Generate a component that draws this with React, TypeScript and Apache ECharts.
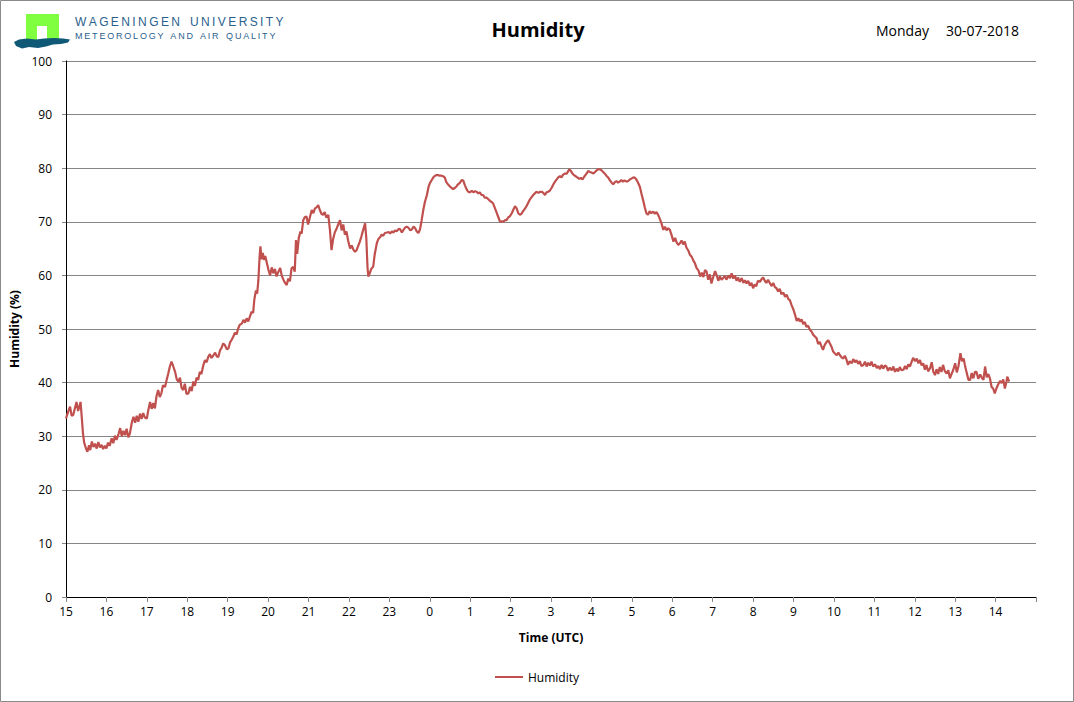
import React, { useEffect, useRef } from "react";
import * as echarts from "echarts";

// hours since 15:00 UTC (29-07) and relative humidity (%)
const hours = [
  0.00, 0.05, 0.10, 0.14, 0.18, 0.22, 0.26, 0.30, 0.33, 0.36, 0.39, 0.42, 0.45, 0.49, 0.53, 0.57, 0.60, 0.64, 0.68, 0.72,
  0.76, 0.80, 0.84, 0.88, 0.92, 0.96, 1.00, 1.04, 1.08, 1.13, 1.17, 1.21, 1.25, 1.30, 1.34, 1.38, 1.42, 1.46, 1.50, 1.54,
  1.58, 1.63, 1.67, 1.71, 1.75, 1.79, 1.83, 1.87, 1.91, 1.95, 2.00, 2.04, 2.08, 2.12, 2.16, 2.20, 2.24, 2.28, 2.32, 2.36,
  2.40, 2.45, 2.49, 2.53, 2.57, 2.61, 2.65, 2.70, 2.74, 2.78, 2.82, 2.86, 2.90, 2.94, 2.98, 3.03, 3.07, 3.11, 3.15, 3.19,
  3.23, 3.27, 3.31, 3.35, 3.40, 3.44, 3.48, 3.52, 3.56, 3.60, 3.65, 3.69, 3.73, 3.77, 3.81, 3.85, 3.89, 3.93, 3.98, 4.02,
  4.06, 4.10, 4.14, 4.18, 4.22, 4.26, 4.30, 4.35, 4.39, 4.43, 4.47, 4.51, 4.55, 4.59, 4.63, 4.66, 4.70, 4.73, 4.76, 4.79,
  4.81, 4.84, 4.87, 4.90, 4.93, 4.97, 5.01, 5.05, 5.09, 5.13, 5.17, 5.21, 5.25, 5.30, 5.34, 5.38, 5.42, 5.46, 5.50, 5.54,
  5.58, 5.62, 5.66, 5.69, 5.72, 5.76, 5.80, 5.83, 5.87, 5.91, 5.95, 5.99, 6.04, 6.08, 6.12, 6.16, 6.20, 6.24, 6.28, 6.32,
  6.36, 6.40, 6.44, 6.49, 6.53, 6.57, 6.61, 6.65, 6.70, 6.74, 6.78, 6.82, 6.86, 6.90, 6.94, 6.98, 7.03, 7.07, 7.11, 7.15,
  7.19, 7.23, 7.27, 7.31, 7.35, 7.40, 7.43, 7.46, 7.48, 7.52, 7.56, 7.60, 7.64, 7.69, 7.73, 7.77, 7.81, 7.85, 7.89, 7.94,
  7.98, 8.02, 8.06, 8.10, 8.14, 8.18, 8.22, 8.26, 8.31, 8.35, 8.39, 8.43, 8.47, 8.52, 8.56, 8.60, 8.64, 8.68, 8.72, 8.76,
  8.80, 8.84, 8.88, 8.93, 8.97, 9.01, 9.05, 9.09, 9.13, 9.17, 9.21, 9.25, 9.29, 9.33, 9.37, 9.41, 9.46, 9.50, 9.54, 9.58,
  9.62, 9.66, 9.70, 9.75, 9.79, 9.83, 9.87, 9.91, 9.95, 10.00, 10.04, 10.08, 10.12, 10.16, 10.20, 10.24, 10.28, 10.32, 10.36, 10.41,
  10.45, 10.49, 10.53, 10.57, 10.61, 10.66, 10.70, 10.74, 10.78, 10.82, 10.86, 10.90, 10.94, 10.98, 11.03, 11.07, 11.11, 11.15, 11.19, 11.23,
  11.27, 11.31, 11.36, 11.40, 11.44, 11.48, 11.52, 11.56, 11.60, 11.64, 11.69, 11.73, 11.77, 11.81, 11.85, 11.89, 11.93, 11.97, 12.02, 12.06,
  12.10, 12.14, 12.18, 12.22, 12.26, 12.30, 12.35, 12.39, 12.43, 12.45, 12.49, 12.53, 12.57, 12.61, 12.65, 12.70, 12.74, 12.78, 12.82, 12.86,
  12.90, 12.92, 12.96, 13.00, 13.05, 13.09, 13.13, 13.17, 13.21, 13.25, 13.29, 13.33, 13.37, 13.42, 13.46, 13.50, 13.54, 13.58, 13.62, 13.66,
  13.70, 13.74, 13.78, 13.82, 13.87, 13.91, 13.95, 14.00, 14.04, 14.08, 14.12, 14.16, 14.20, 14.24, 14.28, 14.32, 14.36, 14.40, 14.44, 14.48,
  14.53, 14.57, 14.61, 14.65, 14.69, 14.73, 14.78, 14.82, 14.86, 14.90, 14.94, 14.98, 15.03, 15.07, 15.11, 15.15, 15.19, 15.23, 15.27, 15.31,
  15.35, 15.40, 15.44, 15.48, 15.52, 15.56, 15.60, 15.65, 15.69, 15.73, 15.77, 15.81, 15.85, 15.89, 15.93, 15.97, 16.01, 16.06, 16.10, 16.14,
  16.18, 16.22, 16.26, 16.30, 16.34, 16.39, 16.43, 16.47, 16.51, 16.55, 16.59, 16.63, 16.67, 16.72, 16.76, 16.80, 16.84, 16.88, 16.92, 16.96,
  17.00, 17.04, 17.08, 17.12, 17.17, 17.21, 17.25, 17.29, 17.33, 17.37, 17.42, 17.46, 17.50, 17.54, 17.58, 17.62, 17.66, 17.70, 17.75, 17.79,
  17.83, 17.87, 17.91, 17.95, 18.00, 18.04, 18.08, 18.12, 18.16, 18.20, 18.24, 18.28, 18.32, 18.36, 18.41, 18.45, 18.49, 18.53, 18.57, 18.61,
  18.65, 18.69, 18.73, 18.77, 18.82, 18.86, 18.90, 18.94, 18.98, 19.03, 19.07, 19.11, 19.15, 19.19, 19.23, 19.27, 19.31, 19.35, 19.39, 19.44,
  19.48, 19.52, 19.56, 19.60, 19.64, 19.68, 19.73, 19.77, 19.81, 19.85, 19.89, 19.93, 19.97, 20.02, 20.06, 20.10, 20.14, 20.18, 20.22, 20.26,
  20.30, 20.34, 20.38, 20.43, 20.47, 20.51, 20.55, 20.59, 20.63, 20.67, 20.72, 20.76, 20.80, 20.84, 20.88, 20.92, 20.96, 21.01, 21.05, 21.09,
  21.13, 21.17, 21.21, 21.25, 21.29, 21.33, 21.38, 21.42, 21.46, 21.50, 21.54, 21.58, 21.62, 21.66, 21.70, 21.74, 21.79, 21.83, 21.87, 21.91,
  21.95, 22.00, 22.04, 22.08, 22.13, 22.17, 22.21, 22.24, 22.28, 22.33, 22.37, 22.41, 22.45, 22.49, 22.53, 22.57, 22.62, 22.66, 22.70, 22.74,
  22.78, 22.82, 22.86, 22.90, 22.94, 22.98, 23.02, 23.06, 23.11, 23.15, 23.19, 23.23, 23.27, 23.29, 23.32, 23.34,
];

const humidity = [
  33.3, 34.5, 35.5, 33.8, 34.0, 35.2, 36.4, 34.7, 35.5, 36.4, 33.5, 30.5, 28.8, 27.8, 27.1, 28.3, 27.4, 29.0, 28.0, 28.6,
  27.7, 28.9, 27.9, 28.4, 27.6, 28.2, 27.7, 28.8, 28.2, 29.6, 28.7, 30.1, 29.3, 30.4, 31.5, 30.0, 31.0, 30.2, 31.4, 29.8,
  30.5, 32.6, 33.6, 32.5, 33.8, 32.7, 34.2, 33.2, 34.3, 33.5, 33.3, 35.0, 36.4, 35.1, 36.2, 35.2, 37.5, 38.6, 37.3, 38.0,
  39.5, 39.2, 40.5, 41.7, 43.0, 43.9, 43.1, 42.0, 40.6, 40.2, 40.9, 39.0, 38.6, 39.8, 37.9, 38.0, 39.2, 38.4, 40.2, 39.4,
  40.9, 40.5, 42.0, 41.6, 43.3, 44.2, 43.8, 44.8, 45.3, 44.6, 45.1, 45.6, 44.9, 44.8, 46.0, 46.5, 47.3, 47.0, 46.2, 46.4,
  47.5, 48.0, 48.6, 49.3, 49.0, 50.1, 50.8, 51.0, 51.7, 51.2, 52.0, 51.4, 52.3, 53.2, 53.0, 55.5, 57.2, 56.6, 59.1, 63.5,
  65.4, 63.0, 64.2, 62.9, 63.6, 62.3, 61.0, 60.0, 61.5, 60.4, 61.2, 59.8, 60.6, 61.4, 59.9, 59.2, 58.6, 58.2, 59.4, 58.9,
  61.3, 61.6, 60.7, 66.6, 64.0, 67.0, 68.2, 67.8, 70.3, 70.9, 71.0, 69.5, 71.0, 72.2, 71.6, 72.5, 72.7, 73.1, 72.2, 71.5,
  71.3, 71.8, 70.8, 71.3, 68.5, 64.7, 66.8, 68.0, 68.8, 69.6, 70.3, 68.4, 69.5, 67.6, 68.2, 66.5, 65.0, 65.6, 64.8, 64.4,
  64.7, 65.5, 66.3, 67.3, 68.4, 69.7, 67.0, 61.5, 59.8, 60.5, 61.3, 61.6, 64.0, 66.0, 66.8, 67.1, 67.6, 67.4, 67.9, 68.0,
  68.1, 67.8, 68.2, 68.0, 68.4, 68.2, 68.6, 68.7, 68.0, 68.5, 68.9, 69.1, 68.9, 68.4, 68.6, 69.1, 68.8, 68.2, 67.9, 68.6,
  70.3, 72.2, 73.7, 75.0, 76.5, 77.3, 77.8, 78.3, 78.6, 78.7, 78.7, 78.6, 78.6, 78.5, 78.3, 77.4, 76.9, 76.6, 76.3, 76.1,
  76.3, 76.6, 77.0, 77.3, 77.8, 77.7, 76.8, 76.1, 75.6, 75.5, 75.8, 75.5, 75.7, 75.6, 75.3, 75.5, 75.0, 75.0, 74.5, 74.5,
  74.2, 73.9, 73.7, 73.4, 72.6, 71.6, 70.8, 70.0, 70.1, 70.0, 70.3, 70.3, 70.8, 71.0, 71.6, 72.3, 72.9, 72.5, 71.6, 71.3,
  71.5, 72.0, 72.5, 73.0, 73.6, 74.2, 74.6, 75.0, 75.3, 75.6, 75.4, 75.6, 75.6, 75.4, 75.0, 75.5, 75.6, 75.8, 76.4, 77.0,
  77.5, 77.9, 78.3, 78.5, 78.3, 78.8, 79.0, 79.0, 79.5, 79.8, 79.5, 79.0, 78.7, 78.5, 78.3, 78.0, 78.2, 77.9, 78.4, 78.8,
  79.2, 79.5, 79.3, 79.2, 79.0, 79.3, 79.6, 79.8, 79.8, 79.6, 79.3, 79.0, 78.6, 78.2, 77.7, 77.3, 77.0, 77.4, 77.6, 77.3,
  77.5, 77.8, 77.5, 77.7, 77.5, 77.6, 77.9, 78.1, 78.3, 78.2, 77.8, 77.2, 76.5, 75.2, 74.0, 72.7, 71.6, 71.3, 72.0, 71.6,
  71.9, 71.5, 71.8, 71.3, 70.6, 69.8, 68.5, 69.1, 68.4, 68.8, 68.5, 67.6, 66.3, 67.0, 66.1, 65.7, 66.0, 66.5, 65.8, 66.3,
  65.2, 64.6, 63.8, 63.5, 62.8, 62.3, 61.4, 60.9, 59.8, 60.5, 59.7, 61.0, 60.7, 59.2, 60.2, 58.5, 59.6, 60.8, 60.0, 59.0,
  59.8, 59.2, 59.5, 59.9, 59.2, 60.0, 59.5, 60.4, 59.4, 60.0, 59.0, 59.6, 58.8, 59.5, 58.6, 59.1, 58.5, 59.0, 58.1, 58.6,
  57.6, 58.3, 58.0, 59.0, 58.8, 59.3, 59.6, 59.0, 58.6, 59.2, 58.5, 58.0, 58.6, 57.8, 57.6, 57.0, 57.5, 56.5, 56.8, 56.0,
  56.4, 55.6, 55.4, 54.5, 53.6, 52.6, 51.5, 52.0, 51.4, 51.8, 50.9, 51.3, 50.4, 50.6, 49.8, 49.5, 48.9, 48.6, 48.3, 47.2,
  47.6, 46.8, 46.1, 47.0, 47.6, 47.9, 47.3, 46.7, 45.8, 45.4, 45.1, 45.6, 45.1, 44.7, 44.5, 45.0, 44.3, 43.3, 44.0, 43.6,
  44.4, 43.8, 44.2, 43.5, 44.0, 43.1, 43.3, 43.9, 43.0, 43.7, 43.2, 43.9, 43.0, 43.4, 42.7, 43.1, 42.5, 43.3, 42.6, 43.2,
  43.0, 42.2, 42.8, 42.3, 43.0, 42.0, 42.6, 42.1, 42.9, 42.3, 42.4, 43.1, 42.5, 43.4, 43.0, 43.8, 44.6, 44.0, 44.5, 43.6,
  44.2, 43.2, 43.6, 42.4, 43.3, 42.1, 42.7, 43.8, 42.0, 41.4, 42.5, 41.6, 42.9, 42.0, 43.3, 42.2, 41.7, 42.3, 40.8, 41.6,
  42.3, 43.6, 41.9, 43.0, 45.5, 44.0, 44.5, 43.3, 42.0, 40.5, 40.5, 41.8, 40.8, 42.0, 42.0, 40.7, 41.5, 40.9, 40.5, 43.0,
  41.0, 41.6, 40.8, 39.2, 38.9, 38.0, 38.9, 39.6, 40.3, 39.9, 40.6, 38.9, 40.2, 41.1, 40.5, 40.2,
];

const startHourUTC = 15;
const yTicksMax = 100;

const seriesName = "Humidity";
const titleText = "Humidity";
const dayText = "Monday";
const dateText = "30-07-2018";

const spaced = (s: string, gap: string) => s.split("").join(gap);

export default function App() {
  const ref = useRef<HTMLDivElement>(null);

  useEffect(() => {
    document.body.style.margin = "0";
    const chart = echarts.init(ref.current!, undefined, { renderer: "svg" });
    const font = "'Open Sans', 'Noto Sans', 'DejaVu Sans', sans-serif";
    const data = hours.map((h, i) => [h, humidity[i]]);

    chart.setOption({
      animation: false,
      backgroundColor: "#ffffff",
      textStyle: { fontFamily: font },
      grid: { left: 66, right: 38, top: 61, bottom: 105 },
      legend: {
        data: [seriesName],
        left: "center",
        top: 666,
        icon: "rect",
        itemWidth: 28,
        itemHeight: 2,
        itemGap: 6,
        textStyle: { fontFamily: font, fontSize: 12, color: "#000" },
      },
      xAxis: [
        {
          type: "value",
          min: 0,
          max: 24,
          interval: 1,
          name: "Time (UTC)",
          nameLocation: "middle",
          nameGap: 34,
          nameTextStyle: { fontFamily: font, fontSize: 12, fontWeight: "bold", color: "#000" },
          axisLine: { show: true, lineStyle: { color: "#868686", width: 1 } },
          axisTick: { show: true, length: 5, lineStyle: { color: "#868686" } },
          axisLabel: {
            color: "#000",
            fontSize: 12,
            fontFamily: font,
            margin: 8,
            formatter: (v: number) => (v >= 24 ? "" : String((startHourUTC + v) % 24)),
          },
          splitLine: { show: false },
        },
        {
          type: "value",
          position: "top",
          min: 0,
          max: 24,
          axisLine: { show: true, lineStyle: { color: "#000", width: 1 } },
          axisTick: { show: false },
          axisLabel: { show: false },
          splitLine: { show: false },
        },
      ],
      yAxis: [
        {
          type: "value",
          min: 0,
          max: yTicksMax,
          interval: 10,
          name: "Humidity (%)",
          nameLocation: "middle",
          nameGap: 46,
          nameRotate: 90,
          nameTextStyle: { fontFamily: font, fontSize: 12, fontWeight: "bold", color: "#000" },
          axisLine: { show: true, lineStyle: { color: "#868686", width: 1 } },
          axisTick: { show: true, length: 4, lineStyle: { color: "#868686" } },
          axisLabel: { color: "#000", fontSize: 12, fontFamily: font, margin: 14 },
          splitLine: { show: true, lineStyle: { color: "#868686", width: 1 } },
        },
        {
          type: "value",
          position: "right",
          min: 0,
          max: yTicksMax,
          axisLine: { show: true, lineStyle: { color: "#000", width: 1 } },
          axisTick: { show: false },
          axisLabel: { show: false },
          splitLine: { show: false },
        },
      ],
      series: [
        {
          name: seriesName,
          type: "line",
          data,
          xAxisIndex: 0,
          yAxisIndex: 0,
          showSymbol: false,
          symbol: "none",
          lineStyle: { color: "#c0504d", width: 2.2 },
          itemStyle: { color: "#c0504d" },
          z: 5,
        },
      ],
      graphic: [
        {
          type: "rect",
          shape: { x: 0.5, y: 0.5, width: 1073, height: 701 },
          style: { fill: "none", stroke: "#8a8a8a", lineWidth: 1 },
          silent: true,
        },
        {
          type: "polygon",
          shape: {
            points: [
              [26, 14], [59, 14], [59, 40], [47, 40], [47, 26], [37, 26], [37, 40], [26, 40],
            ],
          },
          style: { fill: "#80ff40" },
        },
        {
          type: "polygon",
          shape: {
            points: [
              [14, 42], [19, 39.5], [27, 38.5], [36, 39.5], [44, 38.5], [54, 38], [63, 38.5], [70, 39.5],
              [68, 42.5], [61, 44], [53, 44.5], [46, 46.5], [38, 48], [29, 47], [22, 48.5], [16, 46],
            ],
          },
          style: { fill: "#0f5876" },
        },
        {
          type: "text",
          left: 75,
          top: 16,
          style: {
            text: spaced("WAGENINGEN", "\u2009") + "   " + spaced("UNIVERSITY", "\u2009"),
            fontFamily: "'Liberation Sans', Arial, sans-serif",
            fontSize: 12,
            fill: "#2a5f8c",
          },
        },
        {
          type: "text",
          left: 75,
          top: 31,
          style: {
            text: spaced("METEOROLOGY", "\u2009") + "   " + spaced("AND", "\u2009") + "   " + spaced("AIR", "\u2009") + "   " + spaced("QUALITY", "\u2009"),
            fontFamily: "'Liberation Sans', Arial, sans-serif",
            fontSize: 9,
            fill: "#2a5f8c",
          },
        },
        {
          type: "text",
          x: 538,
          y: 29,
          style: {
            text: titleText,
            fontFamily: font,
            fontSize: 20,
            fontWeight: "bold",
            fill: "#000",
            align: "center",
            verticalAlign: "middle",
          },
        },
        {
          type: "text",
          x: 876,
          y: 30,
          style: {
            text: dayText,
            fontFamily: font,
            fontSize: 14,
            fill: "#000",
            verticalAlign: "middle",
          },
        },
        {
          type: "text",
          x: 946,
          y: 30,
          style: {
            text: dateText,
            fontFamily: font,
            fontSize: 14,
            fill: "#000",
            verticalAlign: "middle",
          },
        },
      ],
    });

    return () => chart.dispose();
  }, []);

  return <div ref={ref} style={{ width: 1074, height: 702 }} />;
}
